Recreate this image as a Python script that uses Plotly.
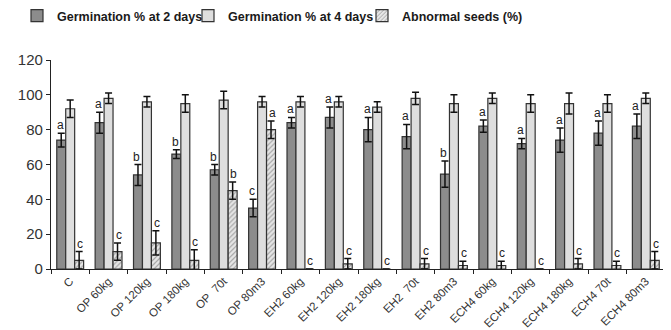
import plotly.graph_objects as go

categories = ["C", "OP 60kg", "OP 120kg", "OP 180kg", "OP\u00a0\u00a070t", "OP 80m3",
              "EH2 60kg", "EH2 120kg", "EH2 180kg", "EH2\u00a0\u00a070t", "EH2 80m3",
              "ECH4 60kg", "ECH4 120kg", "ECH4 180kg", "ECH4 70t", "ECH4 80m3"]

germ2 = [74, 84, 54, 66, 57, 35, 84, 87, 80, 76, 54.5, 82, 72, 74, 78, 82]
germ2_err = [4, 6, 6, 2.5, 3, 5, 3, 6, 7, 7, 7.5, 3.5, 3, 7, 7, 7]
germ2_letters = ["a", "a", "b", "b", "b", "c", "a", "a", "a", "a", "b", "a", "a", "a", "a", "a"]

germ4 = [92, 98, 96, 95, 97, 96, 96, 96, 93, 98, 95, 98, 95, 95, 95, 98]
germ4_err = [5, 3, 3, 5, 5, 3, 3, 3, 3, 3.5, 5, 3, 5, 6, 5, 3]

abnormal = [5, 10, 15, 5, 45, 80, 0, 3, 0, 3, 2, 2, 0, 3, 2, 5]
abnormal_err = [5, 5, 7, 6, 5, 5, 0, 3, 0, 3, 2.5, 2.5, 0, 3, 2.5, 5]
abnormal_letters = ["c", "c", "c", "c", "b", "a", "c", "c", "c", "c", "c", "c", "c", "c", "c", "c"]

FONT = "Liberation Sans, Arial, sans-serif"

err_style = dict(type="data", visible=True, color="#111111", thickness=1.5, width=3.5)
line_style = dict(color="#333333", width=1.2)

fig = go.Figure()
fig.add_trace(go.Bar(
    name="<b>Germination % at 2 days</b>", x=categories, y=germ2, legend="legend",
    marker=dict(color="#8c8c8c", line=line_style),
    error_y=dict(array=germ2_err, **err_style),
))
fig.add_trace(go.Bar(
    name="<b>Germination % at 4 days</b>", x=categories, y=germ4, legend="legend2",
    marker=dict(color="#dedede", line=line_style),
    error_y=dict(array=germ4_err, **err_style),
))
fig.add_trace(go.Bar(
    name="<b>Abnormal seeds (%)</b>", x=categories, y=abnormal, legend="legend3",
    marker=dict(color="#e6e6e6", line=line_style,
                pattern=dict(shape="/", fgcolor="#666666", bgcolor="#e6e6e6", size=3.5, solidity=0.35)),
    error_y=dict(array=[e if e > 0 else None for e in abnormal_err], **err_style),
))

bw = 0.7 / 3
annotations = []
for i, cat in enumerate(categories):
    annotations.append(dict(
        x=i - bw, y=germ2[i] + germ2_err[i], xref="x", yref="y",
        text=germ2_letters[i], showarrow=False, yanchor="bottom", xshift=-1, yshift=-1,
        font=dict(family=FONT, size=12, color="#222222")))
    annotations.append(dict(
        x=i + bw, y=abnormal[i] + abnormal_err[i], xref="x", yref="y",
        text=abnormal_letters[i], showarrow=False, yanchor="bottom", xshift=1, yshift=-1,
        font=dict(family=FONT, size=12, color="#222222")))

leg_common = dict(orientation="h", yref="container", y=1 - 8 / 330, yanchor="middle", xref="container",
                  xanchor="left", font=dict(family=FONT, size=12.5, color="#1a1a1a"),
                  itemwidth=30, bgcolor="rgba(0,0,0,0)")

fig.update_layout(
    width=671, height=330,
    margin=dict(l=43, r=14, t=52, b=69, autoexpand=False),
    paper_bgcolor="white", plot_bgcolor="white",
    barmode="group", bargap=0.3, bargroupgap=0,
    font=dict(family=FONT, color="#222222"),
    legend=dict(x=9 / 671, **leg_common),
    legend2=dict(x=180 / 671, **leg_common),
    legend3=dict(x=354 / 671, **leg_common),
    annotations=annotations,
    showlegend=True,
)
fig.update_xaxes(
    type="category", showline=True, linecolor="#222222", linewidth=1.2, automargin=False,
    ticks="outside", tickson="boundaries", ticklen=4, tickcolor="#222222",
    tickangle=-45, tickfont=dict(size=11.5, color="#333333"), showgrid=False,
)
fig.update_yaxes(
    range=[0, 120], tickvals=[0, 20, 40, 60, 80, 100, 120], automargin=False,
    showline=True, linecolor="#222222", linewidth=1.2,
    ticks="outside", ticklen=4, tickcolor="#222222",
    tickfont=dict(size=15, color="#333333"), showgrid=False, zeroline=False,
)

fig.write_html("out.html")
